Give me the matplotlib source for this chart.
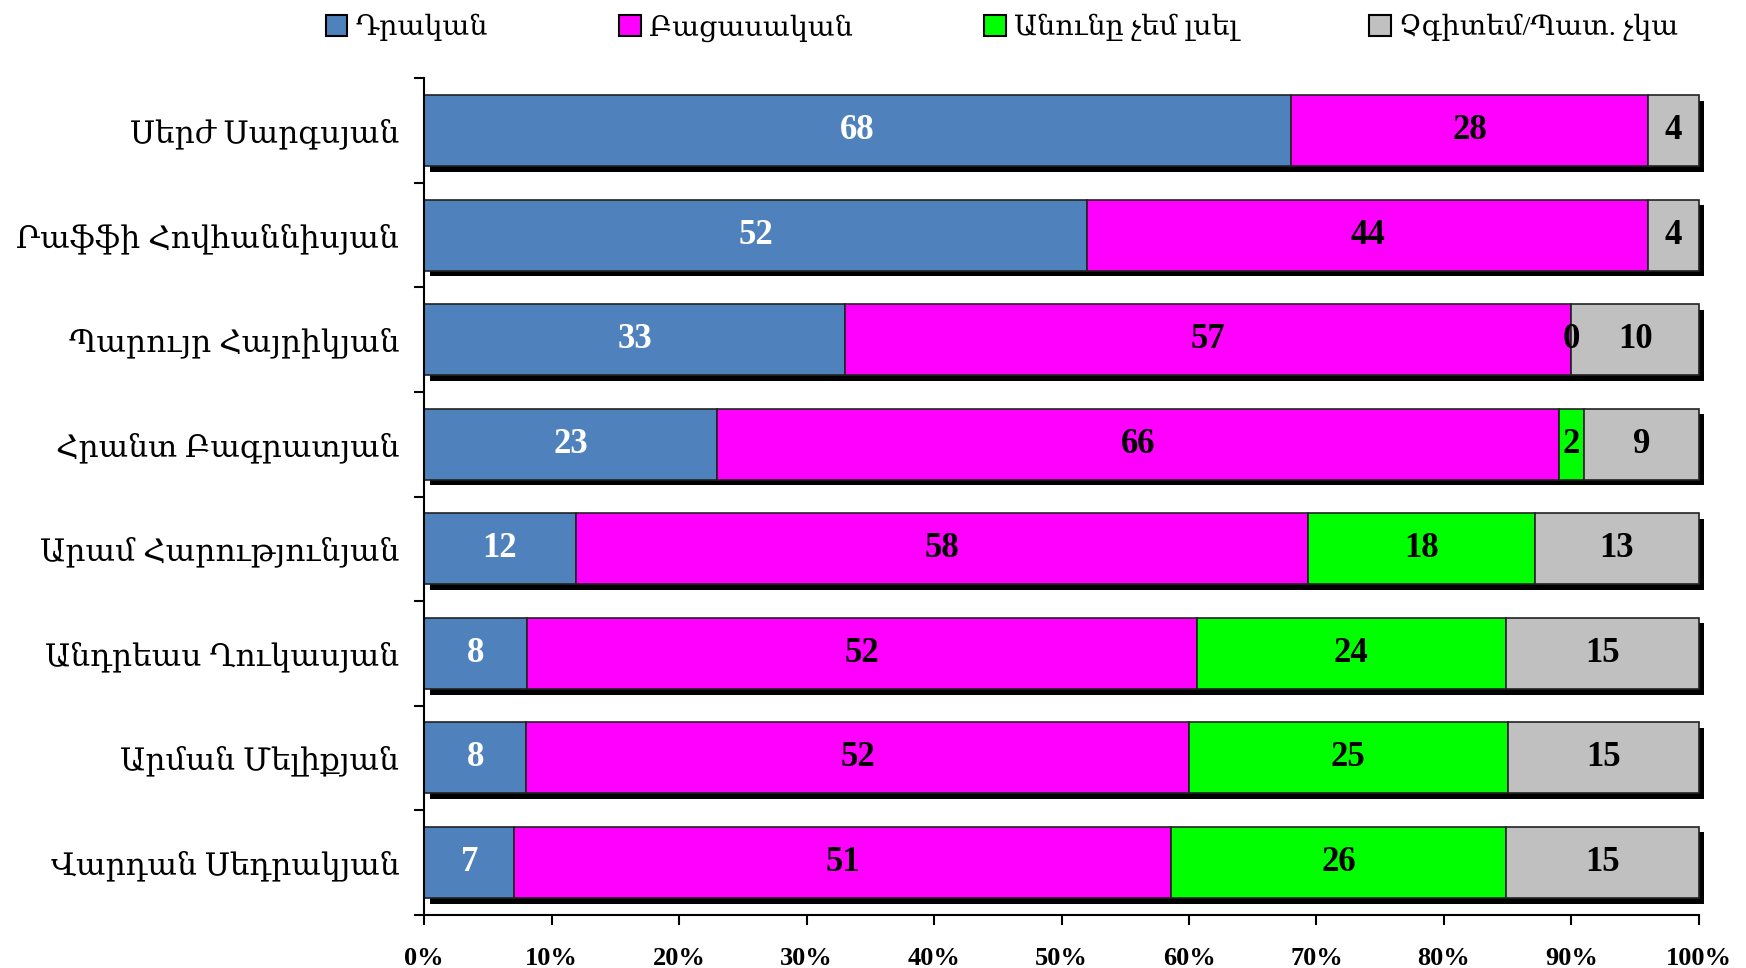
import numpy as np
import matplotlib
matplotlib.use("Agg")
import matplotlib.pyplot as plt
import matplotlib.patheffects as pe
from matplotlib.patches import Patch
from matplotlib.ticker import FixedLocator, PercentFormatter

plt.rcParams['font.family'] = ['Liberation Serif', 'DejaVu Serif']

# data (top to bottom)
names = ["Սերժ Սարգսյան", "Րաֆֆի Հովհաննիսյան", "Պարույր Հայրիկյան",
         "Հրանտ Բագրատյան", "Արամ Հարությունյան", "Անդրեաս Ղուկասյան",
         "Արման Մելիքյան", "Վարդան Սեդրակյան"]
positive = [68, 52, 33, 23, 12, 8, 8, 7]
negative = [28, 44, 57, 66, 58, 52, 52, 51]
not_heard = [None, None, 0, 2, 18, 24, 25, 26]
dont_know = [4, 4, 10, 9, 13, 15, 15, 15]

series = [
    ("Դրական", positive, "#4F81BD", "white"),
    ("Բացասական", negative, "#FF00FF", "black"),
    ("Անունը չեմ լսել", not_heard, "#00FF00", "black"),
    ("Չգիտեմ/Պատ. չկա", dont_know, "#C0C0C0", "black"),
]

vals = np.array([[0 if v is None else v for v in s[1]] for s in series], dtype=float)
totals = vals.sum(axis=0)
shares = vals / totals * 100

fig = plt.figure(figsize=(17.46, 9.68), dpi=100)
ax = fig.add_axes([0.243, 0.055, 0.730, 0.864])

y = np.arange(len(names))
shadow = [pe.SimplePatchShadow(offset=(4, -4), shadow_rgbFace="black", alpha=1.0), pe.Normal()]
left = np.zeros(len(names))
for i, (label, raw, color, tcol) in enumerate(series):
    bars = ax.barh(y, shares[i], left=left, height=0.68, color=color,
                   edgecolor="#222222", linewidth=1.2, zorder=2)
    for b in bars:
        b.set_path_effects(shadow)
        b.set_clip_on(False)
    for j, v in enumerate(raw):
        if v is None:
            continue
        ax.text(left[j] + shares[i][j] / 2, y[j], str(v), ha="center", va="center",
                color=tcol, fontsize=25, fontweight="bold", zorder=5)
    left += shares[i]

ax.set_xlim(0, 100)
ax.set_ylim(len(names) - 0.5, -0.5)
ax.xaxis.set_major_locator(FixedLocator(np.arange(0, 101, 10)))
ax.xaxis.set_major_formatter(PercentFormatter(decimals=0))
ax.set_yticks(np.arange(-0.5, len(names), 1.0))
ax.set_yticklabels([])
ax.set_yticks(y, minor=True)
ax.set_yticklabels(names, minor=True, fontsize=22.5)
ax.tick_params(axis="y", which="minor", length=0, pad=18)
ax.tick_params(axis="y", which="major", length=7, width=1.5, direction="out")
ax.tick_params(axis="x", length=7, width=1.5, direction="out", pad=16)
for t in ax.get_xticklabels():
    t.set_fontsize(19)
    t.set_fontweight("bold")
for side in ["top", "right"]:
    ax.spines[side].set_visible(False)
for side in ["left", "bottom"]:
    ax.spines[side].set_linewidth(1.5)

handles = [Patch(facecolor=s[2], edgecolor="black", linewidth=1.5, label=s[0]) for s in series]
fig.legend(handles=handles, loc="upper center", bbox_to_anchor=(0.574, 1.012), ncol=4,
           frameon=False, fontsize=20.5, handlelength=0.75, handleheight=0.75,
           handletextpad=0.3, columnspacing=4.6)

fig.savefig("out.png", dpi=100)
